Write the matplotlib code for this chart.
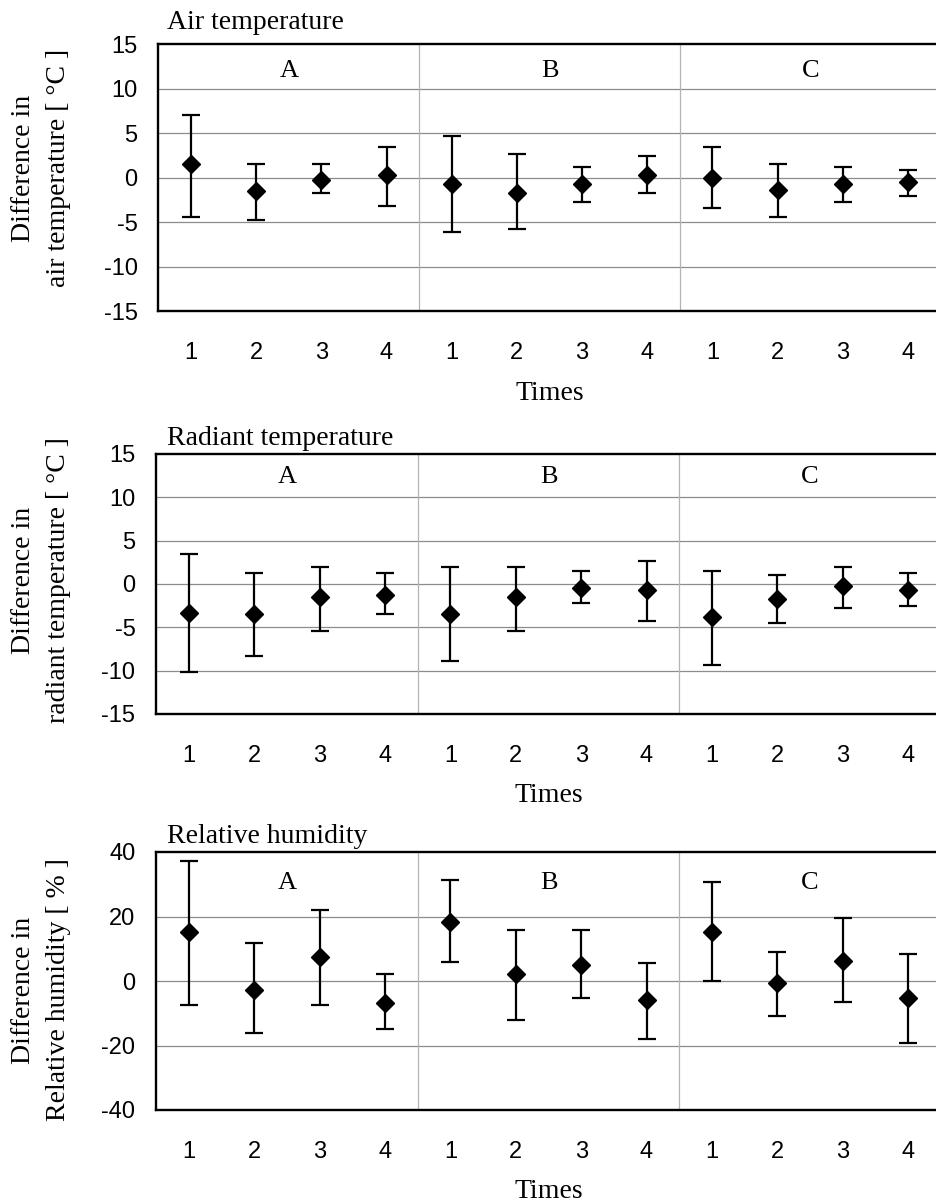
import matplotlib.pyplot as plt
import numpy as np

# categories: 3 sites (A, B, C), each measured 4 times
groups = ['A', 'B', 'C']
times = ['1', '2', '3', '4']
tick_labels = times * len(groups)

# air temperature difference [degC]: mean, upper end, lower end of bar
air_mean = [1.5, -1.5, -0.2, 0.3, -0.7, -1.7, -0.7, 0.3, 0.0, -1.4, -0.7, -0.5]
air_high = [7.1, 1.5, 1.5, 3.5, 4.7, 2.7, 1.2, 2.5, 3.5, 1.5, 1.2, 0.9]
air_low = [-4.4, -4.7, -1.7, -3.2, -6.1, -5.8, -2.7, -1.7, -3.4, -4.4, -2.7, -2.0]

# radiant temperature difference [degC]
rad_mean = [-3.3, -3.5, -1.5, -1.3, -3.5, -1.5, -0.5, -0.7, -3.8, -1.7, -0.2, -0.7]
rad_high = [3.5, 1.3, 2.0, 1.3, 2.0, 2.0, 1.5, 2.7, 1.5, 1.0, 2.0, 1.3]
rad_low = [-10.2, -8.3, -5.4, -3.5, -8.9, -5.4, -2.2, -4.3, -9.4, -4.5, -2.8, -2.5]

# relative humidity difference [%]
rh_mean = [15.1, -2.7, 7.5, -6.8, 18.3, 2.2, 5.0, -6.0, 15.2, -0.6, 6.1, -5.3]
rh_high = [37.2, 11.7, 21.9, 2.1, 31.4, 15.9, 15.9, 5.5, 30.6, 8.9, 19.4, 8.3]
rh_low = [-7.4, -16.0, -7.4, -14.8, 6.0, -12.0, -5.3, -18.0, 0.0, -10.7, -6.6, -19.3]

panels = [
    ('Air temperature', 'Difference in\nair temperature [ °C ]',
     air_mean, air_high, air_low, (-15, 15), [-15, -10, -5, 0, 5, 10, 15]),
    ('Radiant temperature', 'Difference in\nradiant temperature [ °C ]',
     rad_mean, rad_high, rad_low, (-15, 15), [-15, -10, -5, 0, 5, 10, 15]),
    ('Relative humidity', 'Difference in\nRelative humidity [ % ]',
     rh_mean, rh_high, rh_low, (-40, 40), [-40, -20, 0, 20, 40]),
]

W, H = 936, 1203
# axes boxes in pixels: left, top, right, bottom
boxes = [(158.4, 44.3, 940.6, 311.3),
         (156.3, 454.0, 940.7, 714.0),
         (156.3, 852.0, 940.7, 1110.0)]
group_y = [0.90, 0.91, 0.88]
title_gap = [15, 9, 9]        # baseline of title above the axes top, px
ylabel_y = [168, 580, 990]    # centre of the two-line y label, px

serif = 'Liberation Serif'
sans = 'Liberation Sans'

fig = plt.figure(figsize=(W / 100, H / 100), dpi=100)

for (title, ylab, mean, high, low, ylim, yticks), (l, t, r, b), gy, tg, yl in zip(
        panels, boxes, group_y, title_gap, ylabel_y):
    ax = fig.add_axes([l / W, 1 - b / H, (r - l) / W, (b - t) / H])
    x = np.arange(1, len(mean) + 1)
    mean = np.array(mean)
    err = [mean - np.array(low), np.array(high) - mean]
    ax.errorbar(x, mean, yerr=err, fmt='D', color='black', markersize=9,
                elinewidth=1.6, capsize=6.5, capthick=1.6, zorder=3)

    ax.set_xlim(0.5, len(mean) + 0.5)
    ax.set_ylim(*ylim)
    ax.set_yticks(yticks)
    ax.set_yticklabels([str(v) for v in yticks], fontsize=17, family=sans)
    ax.set_xticks(x)
    ax.set_xticklabels(tick_labels, fontsize=17, family=sans)
    ax.tick_params(axis='both', length=0)
    ax.tick_params(axis='x', pad=22)
    ax.tick_params(axis='y', pad=15)

    # horizontal grid at interior ticks
    for v in yticks[1:-1]:
        ax.axhline(v, color='#8c8c8c', lw=0.9, zorder=1)
    # separators between groups
    for k in range(1, len(groups)):
        ax.axvline(k * len(times) + 0.5, color='#b4b4b4', lw=0.9, zorder=1)

    for s in ['left', 'top', 'bottom']:
        ax.spines[s].set_linewidth(1.7)
        ax.spines[s].set_color('black')
    ax.spines['right'].set_visible(False)

    for i, g in enumerate(groups):
        ax.text(i * len(times) + 2.5, ylim[0] + gy * (ylim[1] - ylim[0]), g,
                ha='center', va='center', fontsize=19, family=serif)

    fig.text(167 / W, 1 - (t - tg) / H, title, ha='left', va='baseline',
             fontsize=20, family=serif)
    fig.text(41 / W, 1 - yl / H, ylab, rotation=90, ha='center', va='center',
             multialignment='center', fontsize=20, family=serif, linespacing=1.5)
    ax.set_xlabel('Times', fontsize=20, family=serif, labelpad=12)

fig.savefig('out.png', dpi=100)
